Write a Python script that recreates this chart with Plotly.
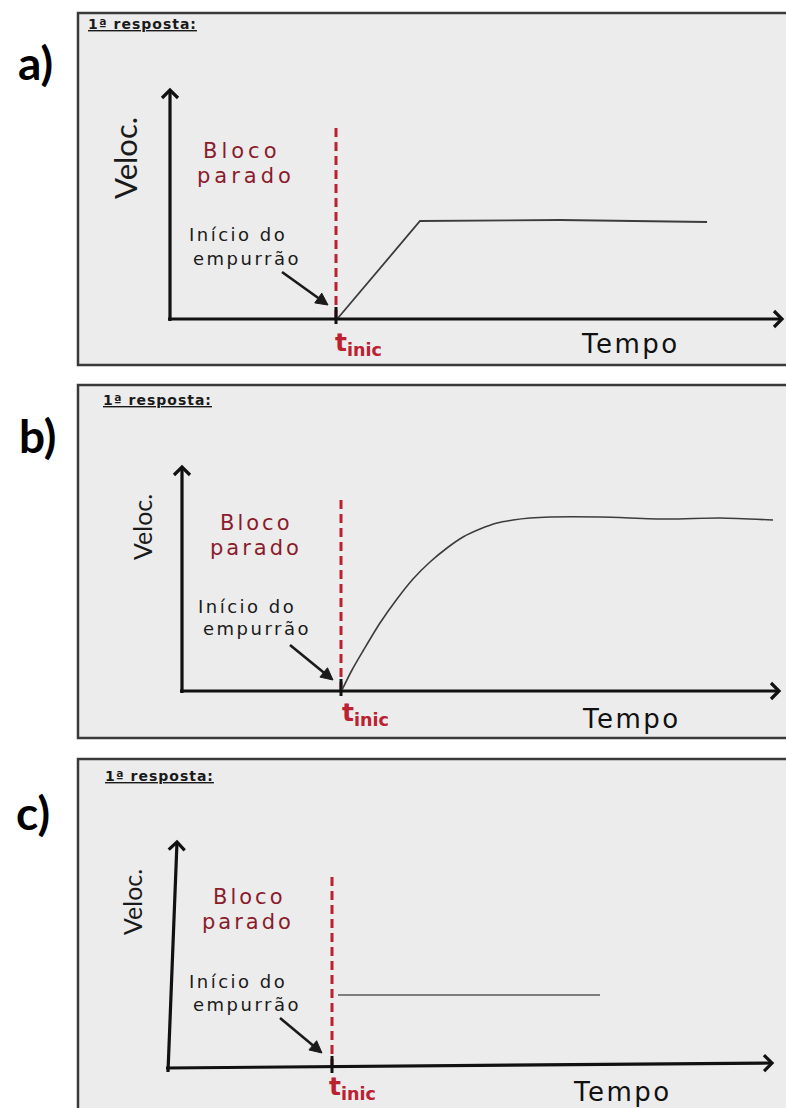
import math
import plotly.graph_objects as go

W, H = 786, 1108

# ------------------------------------------------------------------
# DATA (graph units: horizontal = tempo, vertical = velocidade)
# ------------------------------------------------------------------
panel_labels = ["a)", "b)", "c)"]
header_text = "1ª resposta:"
y_label = "Veloc."
x_label = "Tempo"
stop_label = ["Bloco", "parado"]
push_label = ["Início do", "empurrão"]

# instant when the push starts (one per panel)
t_inic = [166, 159, 164]

# a) linear rise, then constant speed
curve_a_t = [168, 250, 390, 537]
curve_a_v = [1, 98, 99, 97]

# b) smooth (concave) rise, then constant speed
curve_b_t = [160, 170, 181, 198, 215, 231, 248, 265, 281, 298, 315, 331, 348, 368, 418, 485, 538, 591]
curve_b_v = [1, 21, 40, 68, 92, 112, 129, 143, 154, 162, 168, 171, 173, 174, 174, 172, 173, 171]

# c) jump straight to constant speed
curve_c_t = [170, 432]
curve_c_v = [73, 73]

curves = [(curve_a_t, curve_a_v, "linear"), (curve_b_t, curve_b_v, "spline"), (curve_c_t, curve_c_v, "linear")]

# ------------------------------------------------------------------
# LAYOUT (pixel geometry of each panel)
# ------------------------------------------------------------------
P = [
    dict(top=13, bottom=365, ox=170, oy=319, dash_top=194,
         yaxis_tip=(0, 229), yaxis_tail=(0, -2), xaxis_tip=(612, 0), xaxis_tail=(-2, 0),
         push_tip=(158, 14), push_tail=(112, 47),
         letter=(35, 62), header=(142, 24),
         veloc=(125, 158, 31), tempo=(630, 344),
         bloco=(241, 151), parado=(246, 176), stop_size=21, stop_ls=4,
         inicio=(238, 234), empurrao=(247, 258),
         tinic=(333, 344), curve_w=1.8, curve_c="#3c3c3c"),
    dict(top=385, bottom=738, ox=182, oy=691, dash_top=194,
         yaxis_tip=(0, 224), yaxis_tail=(0, -2), xaxis_tip=(597, 0), xaxis_tail=(-2, 0),
         push_tip=(151, 11), push_tail=(108, 46),
         letter=(37, 435), header=(157, 400),
         veloc=(142, 527, 25), tempo=(631, 719),
         bloco=(256, 523), parado=(256, 548), stop_size=21, stop_ls=3,
         inicio=(247, 606), empurrao=(257, 628),
         tinic=(340, 714), curve_w=1.6, curve_c="#3c3c3c"),
    dict(top=759, bottom=1115, ox=168, oy=1068, dash_top=196,
         yaxis_tip=(9, 226), yaxis_tail=(0, -4), xaxis_tip=(604, 5), xaxis_tail=(-2, 0),
         push_tip=(154, 15), push_tail=(112, 50),
         letter=(33, 812), header=(159, 776),
         veloc=(132, 902, 25), tempo=(622, 1092),
         bloco=(249, 897), parado=(248, 922), stop_size=21, stop_ls=3,
         inicio=(238, 981), empurrao=(247, 1004),
         tinic=(327, 1088), curve_w=1.3, curve_c="#5a5a5a"),
]

RED = "#bb2130"
DARK_RED = "#8a1b2b"
INK = "#111111"


def px(x):
    return x / W


def py(y):
    return 1 - y / H


def sp(text, ls):
    return f'<span style="letter-spacing:{ls}px">{text}</span>'


def arrow_shapes(tip, tail, xa, ya, head_len, head_half, filled, width, color):
    """Arrow drawn as shapes in graph units (1 unit = 1 px on both axes)."""
    dx, dy = tip[0] - tail[0], tip[1] - tail[1]
    n = math.hypot(dx, dy)
    ux, uy = dx / n, dy / n
    nx, ny = -uy, ux
    bx, by = tip[0] - ux * head_len, tip[1] - uy * head_len
    lx, ly = bx + nx * head_half, by + ny * head_half
    rx, ry = bx - nx * head_half, by - ny * head_half
    out = []
    end = (bx, by) if filled else tip
    out.append(dict(type="line", xref=xa, yref=ya, x0=tail[0], y0=tail[1], x1=end[0], y1=end[1],
                    line=dict(color=color, width=width)))
    if filled:
        out.append(dict(type="path", xref=xa, yref=ya,
                        path=f"M{lx},{ly} L{tip[0]},{tip[1]} L{rx},{ry} Z",
                        fillcolor=color, line=dict(color=color, width=1)))
    else:
        out.append(dict(type="path", xref=xa, yref=ya,
                        path=f"M{lx},{ly} L{tip[0]},{tip[1]} L{rx},{ry}",
                        line=dict(color=color, width=width)))
    return out


fig = go.Figure()
layout_axes = {}
shapes = []
annotations = []

for i, p in enumerate(P):
    sfx = "" if i == 0 else str(i + 1)
    xa, ya = "x" + sfx, "y" + sfx
    ts, vs, shp = curves[i]

    # frame
    shapes.append(dict(type="rect", xref="paper", yref="paper",
                       x0=px(78), x1=1.02, y0=py(p["bottom"]), y1=py(p["top"]),
                       fillcolor="#ececec", line=dict(color="#3a3a3a", width=2.5),
                       layer="below"))

    # axes in graph units
    layout_axes["xaxis" + sfx] = dict(domain=[px(78), 1], range=[78 - p["ox"], W - p["ox"]],
                                      visible=False, anchor=ya, fixedrange=True)
    bot = min(p["bottom"], H)
    layout_axes["yaxis" + sfx] = dict(domain=[py(bot), py(p["top"])],
                                      range=[p["oy"] - bot, p["oy"] - p["top"]],
                                      visible=False, anchor=xa, fixedrange=True)

    # red dashed line at t_inic
    fig.add_trace(go.Scatter(x=[t_inic[i], t_inic[i]], y=[0, p["dash_top"]], mode="lines",
                             line=dict(color=RED, width=3, dash="9px,5px"),
                             xaxis=xa, yaxis=ya, hoverinfo="skip", showlegend=False))
    # small black mark where t_inic meets the time axis
    fig.add_trace(go.Scatter(x=[t_inic[i], t_inic[i]], y=[-5, 12], mode="lines",
                             line=dict(color=INK, width=3),
                             xaxis=xa, yaxis=ya, hoverinfo="skip", showlegend=False))
    # student curve
    line = dict(color=p["curve_c"], width=p["curve_w"], shape=shp)
    if shp == "spline":
        line["smoothing"] = 0.8
    fig.add_trace(go.Scatter(x=ts, y=vs, mode="lines", line=line,
                             xaxis=xa, yaxis=ya, hoverinfo="skip", showlegend=False))

    # axis arrows (open chevron heads)
    shapes += arrow_shapes(p["yaxis_tip"], p["yaxis_tail"], xa, ya, 8, 8, False, 3.2, INK)
    shapes += arrow_shapes(p["xaxis_tip"], p["xaxis_tail"], xa, ya, 8, 8, False, 3.2, INK)
    # push arrow (filled head)
    shapes += arrow_shapes(p["push_tip"], p["push_tail"], xa, ya, 12, 6, True, 2.6, "#1a1a1a")

    # texts
    def txt(pos, text, size, family, color, angle=0, weight="normal", under=False, xanchor="center"):
        f = dict(size=size, family=family, color=color, weight=weight)
        if under:
            f["lineposition"] = "under"
        annotations.append(dict(x=px(pos[0]), y=py(pos[1]), xref="paper", yref="paper",
                                text=text, showarrow=False, font=f, textangle=angle,
                                xanchor=xanchor, yanchor="middle"))

    txt(p["letter"], panel_labels[i], 46, "Lato", "#000000", weight="bold")
    txt(p["header"], sp(header_text, 1.0), 14, "DejaVu Sans", "#1a1a1a", weight="bold", under=True)
    txt(p["veloc"][:2], y_label, p["veloc"][2], "Lato", "#1a1a1a", angle=-90)
    txt(p["tempo"], sp(x_label, 2.5), 26, "DejaVu Sans", "#111111")
    txt(p["bloco"], sp(stop_label[0], p["stop_ls"]), p["stop_size"], "DejaVu Sans", DARK_RED)
    txt(p["parado"], sp(stop_label[1], p["stop_ls"]), p["stop_size"], "DejaVu Sans", DARK_RED)
    txt(p["inicio"], sp(push_label[0], 2.5), 18, "DejaVu Sans", "#1a1a1a")
    txt(p["empurrao"], sp(push_label[1], 2.5), 18, "DejaVu Sans", "#1a1a1a")
    txt(p["tinic"], "t<sub>inic</sub>", 25, "DejaVu Sans", RED, weight="bold", xanchor="left")

fig.update_layout(
    width=W, height=H,
    margin=dict(l=0, r=0, t=0, b=0),
    paper_bgcolor="#ffffff", plot_bgcolor="rgba(0,0,0,0)",
    shapes=shapes, annotations=annotations, showlegend=False,
    **layout_axes,
)

fig.write_html("out.html", config={"displayModeBar": False, "staticPlot": True},
               post_script="document.body.style.margin='0';document.body.style.overflow='hidden';")
